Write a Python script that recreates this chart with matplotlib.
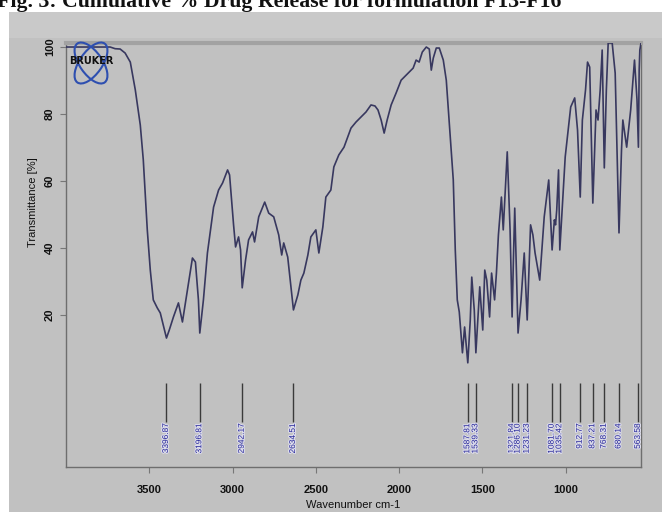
import matplotlib
matplotlib.use("Agg")
import matplotlib.pyplot as plt
from matplotlib.patches import Ellipse, Rectangle
import matplotlib.patheffects as pe

# ---- spectrum (wavenumber cm-1, transmittance %) ----
wavenumber = [
    4000, 3855, 3735, 3705, 3675, 3645, 3614, 3584, 3554, 3536, 3512, 3494,
    3476, 3452, 3434, 3416, 3396.87, 3380, 3355, 3325, 3301, 3271, 3241, 3223,
    3205, 3196.81, 3175, 3151, 3114, 3084, 3060, 3030, 3018, 3006, 2994, 2982,
    2964, 2952, 2942.17, 2922, 2904, 2880, 2868, 2843, 2807, 2783, 2753, 2723,
    2705, 2693, 2669, 2651, 2634.51, 2608, 2590, 2572, 2548, 2530, 2500, 2482,
    2458, 2440, 2410, 2392, 2362, 2331, 2289, 2259, 2229, 2199, 2169, 2145,
    2127, 2108, 2090, 2072, 2048, 2018, 1988, 1946, 1916, 1898, 1880, 1861,
    1837, 1819, 1807, 1795, 1777, 1759, 1735, 1717, 1699, 1675, 1663, 1651,
    1639, 1620, 1607, 1587.81, 1573, 1564, 1549, 1539.33, 1516, 1498, 1486,
    1474, 1457, 1445, 1427, 1416, 1404, 1386, 1375, 1363, 1351, 1334, 1321.84,
    1314, 1306, 1298, 1286.10, 1268, 1249, 1231.23, 1211, 1197, 1184, 1156,
    1129, 1102, 1081.70, 1068, 1061, 1054, 1043, 1035.42, 1003, 970, 946, 929,
    912.77, 900, 881, 869, 856, 837.21, 818, 806, 793, 781, 768.31, 756, 745,
    721, 703, 692, 680.14, 665, 657, 634, 610, 587, 572, 563.58, 559, 555, 548,
]
transmittance = [
    100.0, 100.0, 100.0, 99.5, 99.4, 98.2, 95.5, 87.2, 76.7, 66.3, 45.4, 33.4,
    24.5, 22.1, 20.6, 17.0, 13.1, 15.5, 19.4, 23.6, 17.9, 27.5, 37.0, 35.8,
    24.5, 14.6, 24.5, 38.5, 52.2, 57.3, 59.4, 63.3, 61.8, 54.3, 46.9, 40.3,
    43.3, 39.4, 28.1, 36.4, 42.4, 44.8, 41.8, 49.3, 53.7, 50.4, 49.3, 43.9,
    37.9, 41.5, 37.3, 29.0, 21.5, 26.0, 30.4, 32.5, 37.9, 43.3, 45.4, 38.5,
    46.3, 55.2, 57.3, 64.2, 67.8, 70.1, 75.8, 77.6, 79.1, 80.6, 82.7, 82.4,
    81.2, 78.2, 74.3, 78.2, 82.7, 86.3, 90.1, 92.2, 93.7, 96.1, 95.5, 98.5,
    100.0, 99.4, 93.1, 96.7, 99.7, 99.7, 96.1, 90.1, 77.3, 60.3, 39.4, 24.5,
    20.9, 8.7, 16.4, 5.7, 18.5, 31.3, 21.5, 8.7, 28.4, 15.5, 33.4,
    30.4, 19.4, 32.5, 24.5, 32.5, 43.9, 55.2, 45.4, 57.3, 68.7, 45.4, 19.4,
    36.4, 51.9, 36.4, 14.6, 24.5, 38.5, 18.5, 46.9, 43.9, 38.5, 30.4,
    49.3, 60.3, 39.4, 48.4, 46.9, 51.3, 63.3, 39.4, 67.2, 82.1, 84.8, 75.2,
    55.2, 78.2, 87.2, 95.5, 94.0, 53.4, 81.2, 78.2, 87.2, 99.1, 63.9, 87.2, 101.2,
    101.2, 92.2, 69.3, 44.5, 69.3, 78.2, 70.1, 81.2, 96.1, 84.2, 70.1, 93.1, 99.1, 101.2,
]

# ---- labelled peaks ----
peak_positions = [3396.87, 3196.81, 2942.17, 2634.51, 1587.81, 1539.33,
                  1321.84, 1286.10, 1231.23, 1081.70, 1035.42, 912.77,
                  837.21, 768.31, 680.14, 563.58]
peak_labels = ["3396.87", "3196.81", "2942.17", "2634.51", "1587.81", "1539.33",
               "1321.84", "1286.10", "1231.23", "1081.70", "1035.42", "912.77",
               "837.21", "768.31", "680.14", "563.58"]

x_ticks = [3500, 3000, 2500, 2000, 1500, 1000]
x_tick_labels = ["3500", "3000", "2500", "2000", "1500", "1000"]
y_ticks = [20, 40, 60, 80, 100]
y_tick_labels = ["20", "40", "60", "80", "100"]

W, H = 670, 512
panel = "#c1c1c1"
fig = plt.figure(figsize=(W / 100, H / 100), dpi=100, facecolor="white")

# grey window behind the plot
fig.patches.append(Rectangle((9 / W, 0), (662 - 9) / W, 1 - 12 / H,
                             transform=fig.transFigure, facecolor=panel,
                             edgecolor="none", zorder=-10))
# lighter strip along the top of the window
fig.patches.append(Rectangle((9 / W, 1 - 38 / H), (662 - 9) / W, 26 / H,
                             transform=fig.transFigure, facecolor="#c9c9c9",
                             edgecolor="none", zorder=-9))

fig.text(-0.004, 1 - 7 / H, "Fig. 3: Cumulative % Drug Release for formulation F13-F16",
         fontfamily="Liberation Serif", fontweight="bold", fontsize=15.7,
         va="baseline", ha="left", color="#111111")

ax = fig.add_axes([66 / W, 1 - 467 / H, (641 - 66) / W, (467 - 43) / H])
ax.set_facecolor(panel)
ax.plot(wavenumber, transmittance, color="#38385f", lw=1.2, zorder=3)
ax.set_xlim(4000, 548)
ax.set_ylim(-25.4, 101.2)

# peak markers and their values
ax.vlines(peak_positions, -11.9, -0.3, color="#3a3a3a", lw=1.0, zorder=3)
for pos, lab in zip(peak_positions, peak_labels):
    ax.text(pos, -12.3, lab, rotation=90, ha="center", va="top",
            fontsize=6.0, color="#26269a", fontfamily="Liberation Sans",
            path_effects=[pe.withStroke(linewidth=1.5, foreground="#dcdcea")],
            zorder=4)

ax.set_xticks(x_ticks)
ax.set_xticklabels(x_tick_labels)
ax.set_yticks(y_ticks)
ax.set_yticklabels(y_tick_labels, rotation=90, va="center")
ax.tick_params(axis="both", direction="out", length=4, width=0.8,
               color="#777777", labelsize=8, labelcolor="#111111")
ax.tick_params(axis="x", pad=9)
ax.tick_params(axis="y", pad=4)
for t in ax.get_xticklabels() + ax.get_yticklabels():
    t.set_fontfamily("Liberation Sans")
    t.set_fontweight("bold")

ax.set_xlabel("Wavenumber cm-1", fontfamily="Liberation Sans", fontsize=8,
              color="#111111", va="center")
ax.xaxis.set_label_coords(0.5, -(505 - 467) / 424)
ax.set_ylabel("Transmittance [%]", fontfamily="Liberation Sans", fontsize=8,
              color="#111111", va="center")
ax.yaxis.set_label_coords(-(66 - 33) / 575, (467 - 202) / 424)

for side in ("left", "right", "bottom"):
    ax.spines[side].set_color("#6e6e6e")
    ax.spines[side].set_linewidth(1.0)
ax.spines["top"].set_color("#a2a2a2")
ax.spines["top"].set_linewidth(3)

# instrument logo in the upper left corner
lx, ly, lw_, lh = 66, 38, 50, 50
lax = fig.add_axes([lx / W, 1 - (ly + lh) / H, lw_ / W, lh / H])
lax.set_xlim(0, 1)
lax.set_ylim(0, 1)
lax.axis("off")
for ang in (55, -55):
    lax.add_patch(Ellipse((0.5, 0.5), 0.95, 0.45, angle=ang, fill=False,
                          edgecolor="#2e4fb0", lw=1.5))
lax.text(0.5, 0.55, "BRUKER", ha="center", va="center", fontsize=7,
         fontweight="bold", fontfamily="DejaVu Sans", color="#111111")

fig.savefig("out.png", dpi=100, facecolor=fig.get_facecolor())
